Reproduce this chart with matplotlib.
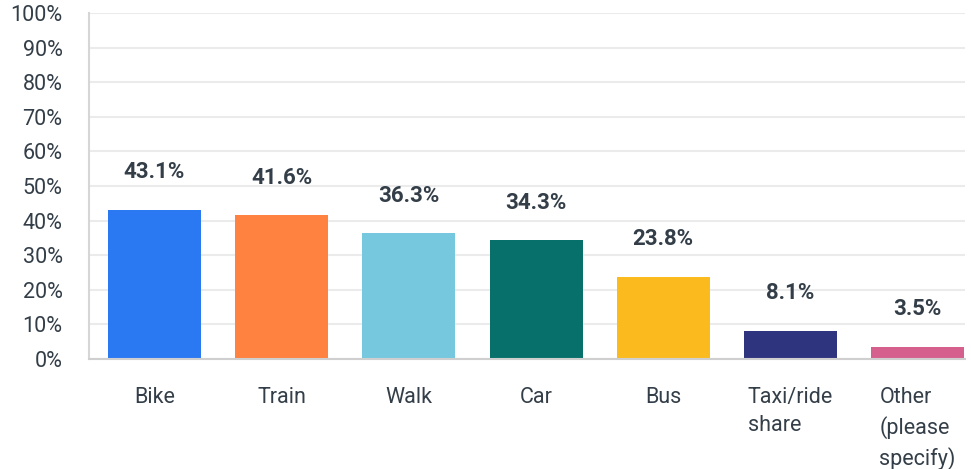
import matplotlib
matplotlib.use("Agg")
import matplotlib.pyplot as plt
from matplotlib.ticker import FuncFormatter

categories = ["Bike", "Train", "Walk", "Car", "Bus", "Taxi/ride\nshare", "Other\n(please\nspecify)"]
values = [43.1, 41.6, 36.3, 34.3, 23.8, 8.1, 3.5]
colors = ["#2A78F2", "#FF8240", "#76C8DF", "#07706A", "#FBBB1F", "#2F347E", "#D5608E"]
yticks = list(range(0, 101, 10))

text_color = "#333E48"
plt.rcParams["font.family"] = ["Roboto", "DejaVu Sans"]

fig = plt.figure(figsize=(9.71, 4.69), dpi=100)
ax = fig.add_axes([89 / 971, 1 - 359 / 469, (965 - 89) / 971, (359 - 13) / 469])

x = list(range(len(categories)))
ax.bar(x, values, width=0.73, color=colors, zorder=3)

for xi, v in zip(x, values):
    ax.annotate(f"{v}%", (xi, v), xytext=(0, 27), textcoords="offset points",
                ha="center", va="center", fontsize=16, fontweight="bold",
                color=text_color)

ax.set_xlim(-0.515, 6.372)
ax.set_ylim(0, 100)
ax.set_yticks(yticks)
ax.yaxis.set_major_formatter(FuncFormatter(lambda v, p: f"{v:.0f}%"))
ax.set_xticks(x)
ax.set_xticklabels(categories, multialignment="left", linespacing=1.45)

ax.tick_params(axis="y", length=0, pad=19, labelsize=15.5, labelcolor=text_color)
ax.tick_params(axis="x", length=0, pad=20, labelsize=15.5, labelcolor=text_color)

ax.grid(axis="y", color="#EBEBEB", linewidth=1.5, zorder=0)
for side in ["top", "right"]:
    ax.spines[side].set_visible(False)
ax.spines["left"].set_color("#D6D6D6")
ax.spines["left"].set_linewidth(1.5)
ax.spines["bottom"].set_color("#CFCFCF")
ax.spines["bottom"].set_linewidth(1.5)
ax.spines["bottom"].set_zorder(4)

fig.savefig("out.png", dpi=100)
